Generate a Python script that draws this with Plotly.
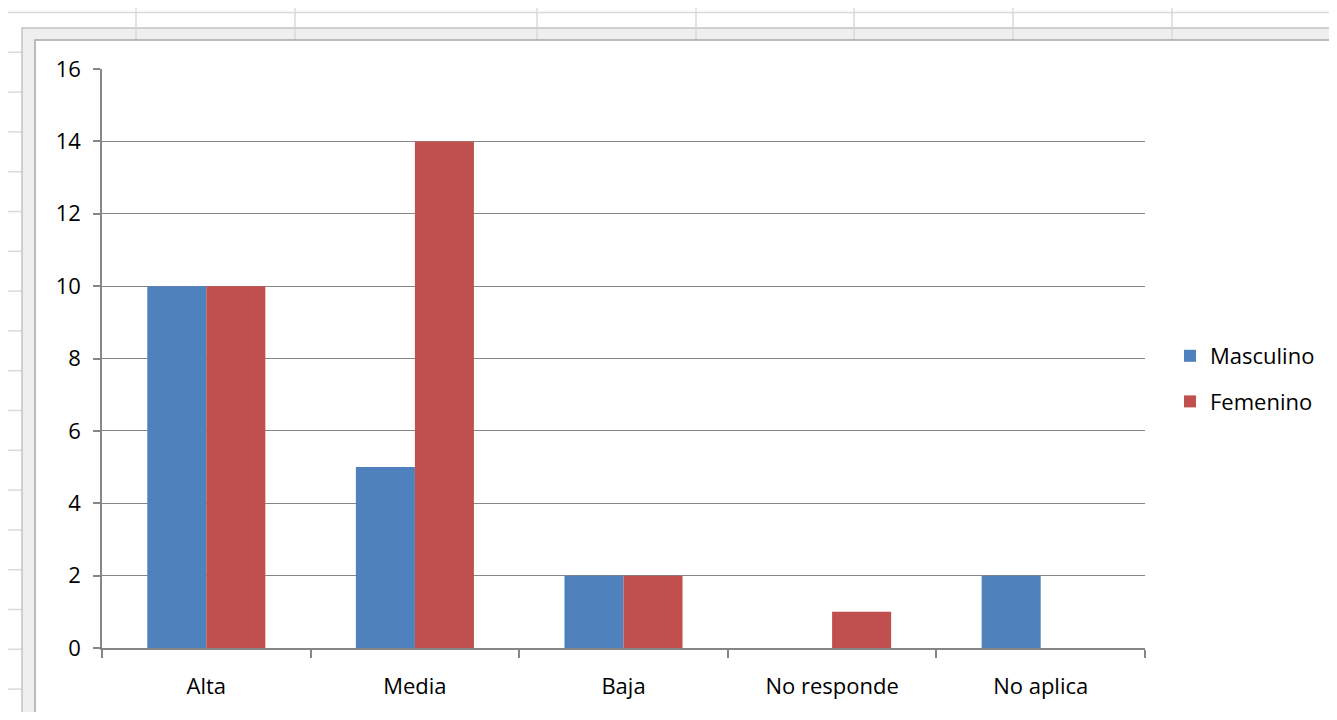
import plotly.graph_objects as go

categories = ["Alta", "Media", "Baja", "No responde", "No aplica"]
masculino = [10, 5, 2, 0, 2]
femenino = [10, 14, 2, 1, 0]
y_ticks = [0, 2, 4, 6, 8, 10, 12, 14, 16]

OFF = 8  # page body margin
W, H = 1337 - 2 * OFF, 720 - 2 * OFF
L, R, T, B = 102 - OFF, 1145 - OFF, 69 - OFF, 648 - OFF

def px(x):
    return (x - OFF - L) / (R - L)

def py(y):
    return (B - (y - OFF)) / (B - T)

fig = go.Figure()
fig.add_trace(go.Bar(name="Masculino", x=categories, y=masculino, legendgroup="m",
                     marker=dict(color="#4F81BD", line=dict(width=0))))
fig.add_trace(go.Bar(name="Femenino", x=categories, y=femenino, legendgroup="f",
                     marker=dict(color="#C0504D", line=dict(width=0))))

FAM = "Open Sans, Liberation Sans, sans-serif"
font = dict(family=FAM, size=22, color="#000000")

SHEET = "#DADADA"
shapes = []
# spreadsheet grid behind the chart
shapes.append(dict(type="line", xref="paper", yref="paper",
                   x0=px(6), x1=px(1340), y0=py(12.5), y1=py(12.5),
                   line=dict(color=SHEET, width=1.5), layer="below"))
for cx in [136, 295, 537, 696, 854, 1013, 1172, 1331]:
    shapes.append(dict(type="line", xref="paper", yref="paper",
                       x0=px(cx), x1=px(cx), y0=py(5), y1=py(28),
                       line=dict(color=SHEET, width=1.5), layer="below"))
for k in range(1, 18):
    ry = 12.5 + 39.8 * k
    shapes.append(dict(type="line", xref="paper", yref="paper",
                       x0=px(6), x1=px(22), y0=py(ry), y1=py(ry),
                       line=dict(color=SHEET, width=1.5), layer="below"))
# chart frame: outer band and inner white area
shapes.append(dict(type="rect", xref="paper", yref="paper",
                   x0=px(22), x1=px(1360), y0=py(730), y1=py(28),
                   line=dict(color="#C4C4C4", width=1.5), fillcolor="#EFEFEF", layer="below"))
for cx in [136, 295, 537, 696, 854, 1013, 1172]:
    shapes.append(dict(type="line", xref="paper", yref="paper",
                       x0=px(cx), x1=px(cx), y0=py(28), y1=py(40),
                       line=dict(color=SHEET, width=1.5), layer="below"))
shapes.append(dict(type="rect", xref="paper", yref="paper",
                   x0=px(35), x1=px(1360), y0=py(713), y1=py(40),
                   line=dict(color="#A8A8A8", width=1.5), fillcolor="#FFFFFF", layer="below"))

fig.update_layout(
    width=W, height=H,
    margin=dict(l=L, r=W - R, t=T, b=H - B, pad=0, autoexpand=False),
    paper_bgcolor="#FFFFFF", plot_bgcolor="#FFFFFF",
    barmode="group", bargap=0.434, bargroupgap=0,
    font=font,
    showlegend=True,
    legend=dict(x=px(1170), y=py(335), xanchor="left", yanchor="top",
                font=dict(size=22, family=FAM, color="#000000"),
                traceorder="grouped", itemwidth=30, tracegroupgap=14,
                bgcolor="rgba(0,0,0,0)"),
    xaxis=dict(showline=True, linecolor="#868686", linewidth=1.5,
               ticks="outside", ticklen=8, tickcolor="#868686", tickwidth=1.5,
               tickson="boundaries", showgrid=False, ticklabelstandoff=18,
               tickfont=font),
    yaxis=dict(range=[0, 16], tickvals=y_ticks, showline=True, linecolor="#868686",
               linewidth=1.5, ticks="outside", ticklen=7, tickcolor="#868686",
               tickwidth=1.5, showgrid=True, gridcolor="#868686", gridwidth=1.2,
               zeroline=False, ticklabelstandoff=8, tickfont=font),
    shapes=shapes,
)

fig.write_html("out.html")
